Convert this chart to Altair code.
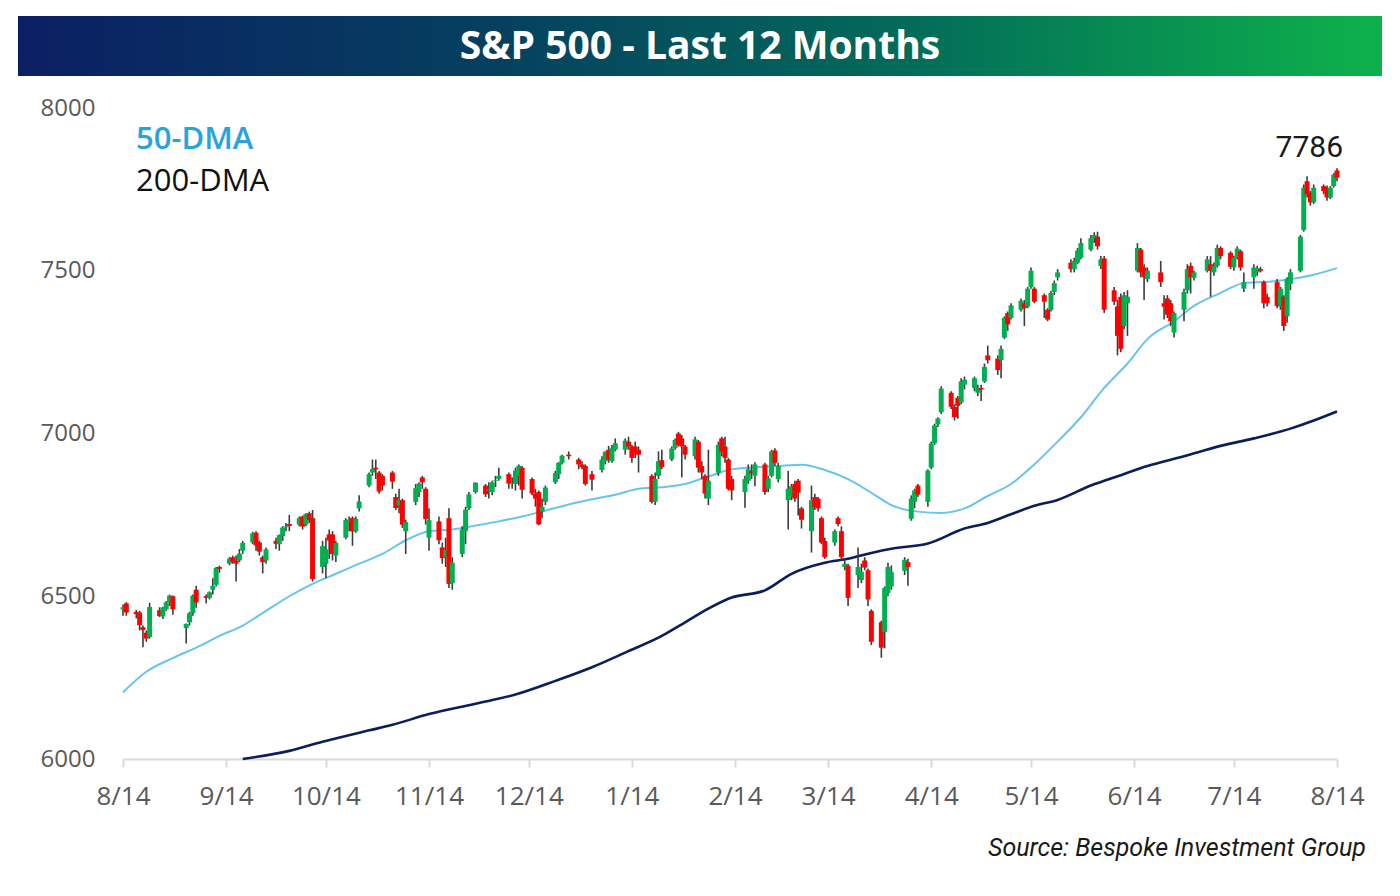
import altair as alt
import pandas as pd

# trading days shown on the chart, by month
trading_days = {
    "2025-08": [14, 15, 18, 19, 20, 21, 22, 25, 26, 27, 28, 29],
    "2025-09": [2, 3, 4, 5, 8, 9, 10, 11, 12, 15, 16, 17, 18, 19, 22, 23, 24, 25, 26, 29, 30],
    "2025-10": [1, 2, 3, 6, 7, 8, 9, 10, 13, 14, 15, 16, 17, 20, 21, 22, 23, 24, 27, 28, 29, 30, 31],
    "2025-11": [3, 4, 5, 6, 7, 10, 11, 12, 13, 14, 17, 18, 19, 20, 21, 24, 25, 26, 28],
    "2025-12": [1, 2, 3, 4, 5, 8, 9, 10, 11, 12, 15, 16, 17, 18, 19, 22, 23, 24, 26, 29, 30, 31],
    "2026-01": [2, 5, 6, 7, 8, 9, 12, 13, 14, 15, 16, 20, 21, 22, 23, 26, 27, 28, 29, 30],
    "2026-02": [2, 3, 4, 5, 6, 9, 10, 11, 12, 13, 17, 18, 19, 20, 23, 24, 25, 26, 27],
    "2026-03": [2, 3, 4, 5, 6, 9, 10, 11, 12, 13, 16, 17, 18, 19, 20, 23, 24, 25, 26, 27, 30, 31],
    "2026-04": [1, 2, 6, 7, 8, 9, 10, 13, 14, 15, 16, 17, 20, 21, 22, 23, 24, 27, 28, 29, 30],
    "2026-05": [1, 4, 5, 6, 7, 8, 11, 12, 13, 14, 15, 18, 19, 20, 21, 22, 26, 27, 28, 29],
    "2026-06": [1, 2, 3, 4, 5, 8, 9, 10, 11, 12, 15, 16, 17, 18, 22, 23, 24, 25, 26, 29, 30],
    "2026-07": [1, 2, 6, 7, 8, 9, 10, 13, 14, 15, 16, 17, 20, 21, 22, 23, 24, 27, 28, 29, 30, 31],
    "2026-08": [3, 4, 5, 6, 7, 10, 11, 12, 13, 14],
}

opens = [
    6460, 6478, 6452, 6450, 6405, 6388, 6375, 6457, 6438, 6460, 6481, 6500,
    6402, 6420, 6448, 6520, 6500, 6495, 6520, 6535, 6590, 6600, 6620, 6610, 6610, 6640, 6665, 6695, 6665, 6620, 6610, 6670, 6660,
    6685, 6712, 6722, 6720, 6745, 6720, 6755, 6740, 6590, 6600, 6690, 6690, 6625, 6680, 6730, 6740, 6700, 6770, 6840, 6880, 6895, 6880, 6870,
    6880, 6805, 6780, 6795, 6700, 6790, 6820, 6865, 6830, 6680, 6730, 6650, 6620, 6740, 6540, 6630, 6700, 6770, 6820,
    6840, 6825, 6820, 6855, 6860, 6875, 6840, 6845, 6870, 6895, 6860, 6815, 6820, 6760, 6790, 6850, 6875, 6910, 6935, 6920, 6905, 6900,
    6875, 6888, 6915, 6950, 6915, 6950, 6950, 6975, 6960, 6960, 6950, 6870, 6790, 6870, 6918, 6920, 6955, 7000, 6985, 6960,
    6930, 6975, 6900, 6870, 6800, 6880, 6985, 6960, 6920, 6860, 6820, 6855, 6885, 6870, 6905, 6830, 6870, 6948, 6860,
    6795, 6805, 6845, 6855, 6770, 6700, 6805, 6800, 6740, 6670, 6665, 6740, 6700, 6590, 6594, 6565, 6550, 6610, 6580, 6455, 6420, 6390,
    6510, 6530, 6578, 6605, 6738, 6790, 6840, 6790, 6895, 6970, 7028, 7065, 7125, 7082, 7110, 7095, 7150, 7140, 7125, 7140, 7160,
    7240, 7230, 7225, 7295, 7370, 7355, 7380, 7400, 7390, 7450, 7445, 7425, 7380, 7380, 7435, 7480, 7525, 7505, 7525, 7540,
    7565, 7600, 7605, 7515, 7538, 7440, 7390, 7420, 7330, 7400, 7500, 7565, 7510, 7475, 7495, 7400, 7415, 7400, 7310, 7380, 7440,
    7515, 7478, 7500, 7520, 7495, 7515, 7570, 7555, 7510, 7540, 7560, 7445, 7480, 7495, 7505, 7465, 7420, 7465, 7390, 7420, 7360, 7460,
    7500, 7625, 7775, 7740, 7710, 7760, 7755, 7725, 7760, 7808,
]
highs = [
    6475, 6482, 6458, 6455, 6410, 6395, 6480, 6466, 6468, 6485, 6505, 6502,
    6416, 6452, 6505, 6532, 6505, 6515, 6555, 6590, 6594, 6620, 6625, 6625, 6645, 6670, 6698, 6700, 6670, 6625, 6650, 6680, 6690,
    6715, 6725, 6750, 6745, 6748, 6755, 6760, 6765, 6670, 6680, 6705, 6700, 6670, 6740, 6745, 6745, 6745, 6810, 6880, 6920, 6920, 6885, 6875,
    6885, 6815, 6830, 6800, 6735, 6845, 6850, 6870, 6835, 6770, 6745, 6665, 6680, 6770, 6620, 6715, 6775, 6820, 6850,
    6845, 6850, 6855, 6870, 6895, 6880, 6865, 6895, 6905, 6900, 6865, 6830, 6825, 6800, 6840, 6885, 6912, 6935, 6945, 6925, 6915, 6905,
    6885, 6930, 6945, 6962, 6965, 6985, 6985, 6990, 6965, 6975, 6960, 6875, 6880, 6945, 6950, 6960, 6985, 7005, 6995, 6965,
    6990, 6980, 6915, 6875, 6950, 6975, 6990, 6990, 6925, 6870, 6870, 6905, 6905, 6912, 6910, 6870, 6950, 6955, 6910,
    6885, 6845, 6855, 6860, 6775, 6840, 6815, 6805, 6745, 6680, 6705, 6745, 6715, 6615, 6600, 6650, 6600, 6620, 6585, 6460, 6425, 6530,
    6603, 6595, 6620, 6615, 6810, 6830, 6845, 6890, 6975, 7030, 7050, 7145, 7130, 7090, 7115, 7170, 7175, 7175, 7150, 7150, 7215,
    7270, 7240, 7270, 7360, 7375, 7400, 7415, 7410, 7450, 7510, 7450, 7430, 7385, 7438, 7470, 7505, 7535, 7540, 7570, 7600,
    7610, 7618, 7620, 7545, 7545, 7450, 7410, 7430, 7435, 7440, 7585, 7570, 7520, 7510, 7530, 7425, 7425, 7410, 7375, 7445, 7520,
    7525, 7500, 7545, 7545, 7525, 7580, 7575, 7560, 7545, 7575, 7565, 7495, 7520, 7515, 7512, 7470, 7430, 7475, 7450, 7425, 7480, 7505,
    7610, 7765, 7790, 7745, 7765, 7765, 7762, 7760, 7800, 7815,
]
lows = [
    6440, 6440, 6432, 6395, 6343, 6360, 6370, 6436, 6430, 6455, 6470, 6443,
    6355, 6410, 6440, 6465, 6478, 6490, 6505, 6530, 6572, 6595, 6600, 6545, 6605, 6630, 6660, 6640, 6625, 6570, 6600, 6645, 6640,
    6670, 6700, 6700, 6715, 6705, 6715, 6725, 6545, 6570, 6555, 6615, 6610, 6605, 6675, 6700, 6655, 6695, 6760, 6835, 6870, 6860, 6815, 6825,
    6830, 6765, 6755, 6710, 6630, 6780, 6805, 6830, 6720, 6640, 6660, 6600, 6590, 6525, 6520, 6620, 6660, 6765, 6815,
    6805, 6800, 6810, 6835, 6855, 6830, 6830, 6825, 6840, 6800, 6810, 6775, 6718, 6740, 6780, 6845, 6860, 6905, 6920, 6890, 6890, 6840,
    6825, 6880, 6905, 6910, 6910, 6945, 6935, 6950, 6910, 6925, 6880, 6785, 6780, 6860, 6890, 6915, 6950, 6960, 6865, 6920,
    6920, 6880, 6860, 6800, 6780, 6870, 6930, 6910, 6825, 6795, 6772, 6845, 6860, 6838, 6812, 6820, 6865, 6900, 6850,
    6705, 6795, 6790, 6748, 6708, 6634, 6765, 6760, 6660, 6615, 6655, 6715, 6610, 6580, 6470, 6525, 6540, 6580, 6470, 6350, 6311, 6340,
    6500, 6520, 6565, 6532, 6732, 6770, 6805, 6775, 6890, 6965, 7020, 7060, 7075, 7040, 7045, 7090, 7135, 7130, 7115, 7100, 7155,
    7215, 7180, 7170, 7290, 7315, 7350, 7375, 7330, 7385, 7445, 7400, 7355, 7345, 7375, 7425, 7470, 7495, 7495, 7520, 7535,
    7560, 7585, 7565, 7505, 7370, 7395, 7240, 7250, 7320, 7300, 7495, 7480, 7410, 7465, 7450, 7350, 7355, 7330, 7295, 7345, 7430,
    7430, 7470, 7495, 7420, 7485, 7510, 7535, 7505, 7500, 7535, 7500, 7435, 7445, 7485, 7495, 7385, 7390, 7385, 7380, 7315, 7340, 7440,
    7495, 7620, 7725, 7700, 7705, 7735, 7715, 7720, 7755, 7775,
]
closes = [
    6466, 6450, 6445, 6411, 6396, 6370, 6467, 6439, 6466, 6481, 6502, 6460,
    6415, 6448, 6502, 6481, 6495, 6512, 6532, 6587, 6584, 6615, 6606, 6600, 6631, 6664, 6693, 6656, 6637, 6605, 6644, 6661, 6688,
    6711, 6715, 6716, 6740, 6714, 6753, 6735, 6553, 6654, 6644, 6671, 6630, 6664, 6735, 6735, 6699, 6738, 6791, 6875, 6891, 6890, 6822, 6840,
    6852, 6771, 6796, 6720, 6728, 6832, 6846, 6850, 6737, 6734, 6672, 6617, 6642, 6538, 6603, 6705, 6766, 6813, 6849,
    6813, 6829, 6850, 6857, 6870, 6846, 6840, 6886, 6901, 6827, 6816, 6800, 6721, 6775, 6834, 6878, 6910, 6932, 6930, 6905, 6896, 6845,
    6858, 6920, 6944, 6920, 6955, 6970, 6978, 6960, 6925, 6940, 6935, 6790, 6860, 6915, 6897, 6954, 6980, 6965, 6960, 6935,
    6982, 6895, 6880, 6815, 6855, 6965, 6945, 6925, 6830, 6825, 6860, 6890, 6878, 6905, 6820, 6862, 6945, 6910, 6900,
    6830, 6838, 6800, 6818, 6735, 6795, 6775, 6770, 6665, 6620, 6700, 6722, 6620, 6600, 6495, 6590, 6575, 6588, 6490, 6360, 6342, 6525,
    6590, 6575, 6612, 6590, 6800, 6825, 6812, 6886, 6969, 7025, 7046, 7138, 7082, 7050, 7085, 7160, 7165, 7170, 7140, 7135, 7205,
    7225, 7195, 7260, 7355, 7335, 7394, 7408, 7385, 7445, 7500, 7405, 7405, 7350, 7432, 7462, 7495, 7505, 7530, 7562, 7585,
    7600, 7610, 7575, 7535, 7380, 7405, 7300, 7260, 7425, 7420, 7570, 7495, 7480, 7500, 7465, 7390, 7365, 7345, 7370, 7435, 7505,
    7480, 7495, 7535, 7500, 7515, 7570, 7545, 7512, 7540, 7568, 7510, 7465, 7510, 7508, 7500, 7400, 7400, 7392, 7445, 7330, 7475, 7495,
    7605, 7755, 7735, 7710, 7755, 7745, 7725, 7755, 7795, 7786,
]

# moving averages
dma50_dates = [
    "2025-08-14", "2025-08-21", "2025-08-29", "2025-09-05", "2025-09-12", "2025-09-19", "2025-09-26",
    "2025-10-03", "2025-10-10", "2025-10-17", "2025-10-24", "2025-10-31", "2025-11-07", "2025-11-14",
    "2025-11-21", "2025-11-28", "2025-12-05", "2025-12-12", "2025-12-19", "2025-12-26", "2026-01-02",
    "2026-01-09", "2026-01-16", "2026-01-23", "2026-01-30", "2026-02-06", "2026-02-13", "2026-02-20",
    "2026-02-27", "2026-03-06", "2026-03-13", "2026-03-20", "2026-03-27", "2026-04-02", "2026-04-10",
    "2026-04-17", "2026-04-24", "2026-05-01", "2026-05-08", "2026-05-15", "2026-05-22", "2026-05-29",
    "2026-06-05", "2026-06-12", "2026-06-18", "2026-06-26", "2026-07-02", "2026-07-10", "2026-07-17",
    "2026-07-24", "2026-07-31", "2026-08-07", "2026-08-14",
]
dma50_vals = [
    6205, 6268, 6310, 6342, 6378, 6410, 6455, 6500, 6538, 6569, 6600, 6630, 6672, 6700,
    6705, 6717, 6730, 6745, 6763, 6782, 6798, 6812, 6830, 6835, 6845, 6868, 6890, 6896,
    6900, 6904, 6888, 6860, 6818, 6780, 6760, 6756, 6770, 6808, 6845, 6905, 6975, 7050,
    7140, 7215, 7290, 7345, 7392, 7432, 7462, 7466, 7474, 7488, 7508,
]
dma200_dates = [
    "2025-09-19", "2025-10-03", "2025-10-13", "2025-10-27", "2025-11-03", "2025-11-14", "2025-11-28",
    "2025-12-10", "2025-12-22", "2026-01-02", "2026-01-12", "2026-01-23", "2026-01-30", "2026-02-06",
    "2026-02-13", "2026-02-23", "2026-03-03", "2026-03-13", "2026-03-20", "2026-03-27", "2026-04-02",
    "2026-04-13", "2026-04-24", "2026-05-01", "2026-05-08", "2026-05-15", "2026-05-22", "2026-06-01",
    "2026-06-10", "2026-06-18", "2026-06-29", "2026-07-10", "2026-07-20", "2026-07-31", "2026-08-07",
    "2026-08-14",
]
dma200_vals = [
    6000, 6025, 6053, 6088, 6105, 6138, 6170, 6198, 6240, 6282, 6327, 6378, 6420, 6462,
    6496, 6518, 6569, 6603, 6615, 6633, 6646, 6662, 6708, 6725, 6752, 6778, 6796, 6840,
    6872, 6900, 6930, 6962, 6985, 7015, 7040, 7068,
]

tick_months = [(2025, m) for m in range(8, 13)] + [(2026, m) for m in range(1, 9)]
y_ticks = [6000, 6500, 7000, 7500, 8000]

dates = [f"{month}-{day:02d}" for month, days in trading_days.items() for day in days]
df = pd.DataFrame({"date": dates, "open": opens, "high": highs, "low": lows, "close": closes})
df50 = pd.DataFrame({"date": dma50_dates, "dma": dma50_vals})
df200 = pd.DataFrame({"date": dma200_dates, "dma": dma200_vals})
last = df.tail(1)

AXIS_FONT = "Open Sans"

x_scale = alt.Scale(
    type="utc", padding=0,
    domain=[alt.DateTime(year=2025, month=8, date=14, utc=True),
            alt.DateTime(year=2026, month=8, date=14, utc=True)],
)
x_axis = alt.Axis(
    values=[alt.DateTime(year=y, month=m, date=14, utc=True) for y, m in tick_months],
    labelExpr="utcFormat(datum.value, '%-m/%-d')",
    labelFont=AXIS_FONT, labelFontSize=26, labelColor="#595959", labelPadding=16,
    labelFlush=False, labelOverlap=False, labelBound=False,
    tickSize=8, tickColor="#d9d9d9", tickWidth=2,
    domainColor="#d9d9d9", domainWidth=2, grid=False, title=None,
)
y_scale = alt.Scale(domain=[6000, 8000], nice=False, zero=False)
y_axis = alt.Axis(
    values=y_ticks, format="d",
    labelFont=AXIS_FONT, labelFontSize=24, labelColor="#595959", labelPadding=28,
    ticks=False, domain=False, grid=False, title=None,
)

X = alt.X("date:T", scale=x_scale, axis=x_axis, title=None)


def Y(field):
    return alt.Y(field, type="quantitative", scale=y_scale, axis=y_axis, title=None)


# title banner with gradient fill
banner_fill = alt.LinearGradient(
    gradient="linear", x1=0, x2=1, y1=0, y2=0,
    stops=[
        alt.GradientStop(offset=0, color="#0b1f63"),
        alt.GradientStop(offset=0.35, color="#05405f"),
        alt.GradientStop(offset=0.65, color="#026b59"),
        alt.GradientStop(offset=1, color="#0db24b"),
    ],
)
title_df = pd.DataFrame({"t": ["S&P 500 - Last 12 Months"]})
banner = alt.Chart(title_df).mark_rect(fill=banner_fill).encode(
    x=alt.value(-105), x2=alt.value(1259), y=alt.value(-92), y2=alt.value(-32)
)
title_text = alt.Chart(title_df).mark_text(
    font=AXIS_FONT, fontSize=39, fontWeight="bold", color="white",
    align="center", baseline="middle"
).encode(x=alt.value(577), y=alt.value(-61), text="t:N")

line200 = alt.Chart(df200).mark_line(color="#0b1d5a", strokeWidth=2.6, interpolate="monotone").encode(
    x=X, y=Y("dma")
)
line50 = alt.Chart(df50).mark_line(color="#66c4ee", strokeWidth=2, interpolate="monotone").encode(
    x=X, y=Y("dma")
)

candles = alt.Chart(df).transform_calculate(
    dir="datum.close >= datum.open ? 'up' : 'down'"
)
wicks = candles.mark_rule(color="#3c3c3c", strokeWidth=1.6).encode(
    x=X, y=Y("low"), y2="high:Q"
)
bodies = candles.mark_bar(size=5).encode(
    x=X, y=Y("open"), y2="close:Q",
    color=alt.Color("dir:N", scale=alt.Scale(domain=["up", "down"], range=["#00b050", "#ff0000"]),
                    legend=None),
)

# legend labels, last value, source
leg50 = alt.Chart(pd.DataFrame({"t": ["50-DMA"]})).mark_text(
    font=AXIS_FONT, fontSize=31, fontWeight=600, color="#29a3dc", align="left", baseline="middle"
).encode(x=alt.value(13), y=alt.value(32), text="t:N")
leg200 = alt.Chart(pd.DataFrame({"t": ["200-DMA"]})).mark_text(
    font=AXIS_FONT, fontSize=31, color="#111111", align="left", baseline="middle"
).encode(x=alt.value(13), y=alt.value(74), text="t:N")

last_label = alt.Chart(last).mark_text(
    font="Roboto", fontSize=30, color="#1a1a1a", align="right", baseline="middle", dx=6, dy=-30
).encode(x=X, y=Y("close"), text=alt.Text("close:Q", format="d"))

source = alt.Chart(pd.DataFrame({"t": ["Source: Bespoke Investment Group"]})).mark_text(
    font="Roboto", fontSize=25, fontStyle="italic", color="#1a1a1a", align="right", baseline="middle"
).encode(x=alt.value(1243), y=alt.value(740), text="t:N")

chart = alt.layer(
    banner, title_text, line200, line50, wicks, bodies, leg50, leg200, last_label, source
).properties(
    width=1214, height=651,
    padding={"left": 10, "top": 8, "right": 5, "bottom": 5},
).configure_view(stroke=None)

chart.save("out.html", embed_options={"renderer": "svg", "actions": False})
